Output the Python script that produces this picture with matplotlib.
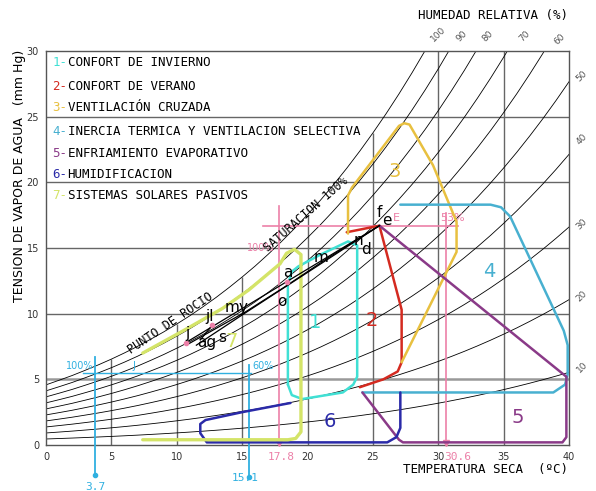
import matplotlib
matplotlib.use("Agg")
import matplotlib.pyplot as plt
import numpy as np

# saturation vapour pressure (mm Hg), 0..40 degC
temps = list(range(0, 41))
es_mmhg = [4.58, 4.93, 5.29, 5.69, 6.10, 6.54, 7.01, 7.51, 8.05, 8.61,
           9.21, 9.84, 10.52, 11.23, 11.99, 12.79, 13.63, 14.53, 15.48, 16.48,
           17.54, 18.65, 19.83, 21.07, 22.38, 23.76, 25.21, 26.74, 28.35, 30.04,
           31.82, 33.70, 35.66, 37.73, 39.90, 42.18, 44.56, 47.07, 49.69, 52.44,
           55.32]
rh_levels = [10, 20, 30, 40, 50, 60, 70, 80, 90, 100]

# zone outlines (temperature, vapour pressure)
zone1 = [(18.5, 4.6), (18.5, 12.2), (18.8, 13.2), (19.3, 13.6), (21.0, 14.5),
         (23.1, 15.5), (23.8, 15.2), (23.8, 5.2), (23.5, 4.6), (22.7, 4.0),
         (19.6, 3.5), (18.8, 3.8), (18.5, 4.6)]
zone2 = [(23.0, 16.2), (25.5, 16.7), (27.2, 10.3), (27.2, 6.3), (26.9, 5.6),
         (25.8, 5.0), (24.0, 4.4)]
zone3 = [(23.1, 16.1), (23.1, 19.0), (23.4, 19.6), (27.0, 24.3), (27.4, 24.5),
         (27.8, 24.4), (29.6, 21.3), (31.4, 17.0), (31.4, 14.7), (27.2, 6.3)]
zone4 = [(27.1, 18.3), (34.0, 18.3), (34.8, 18.1), (35.5, 17.4), (39.6, 8.7),
         (39.9, 7.6), (39.9, 5.4), (39.7, 4.6), (38.8, 4.0), (24.2, 4.0)]
zone5 = [(25.5, 16.7), (39.8, 5.2), (39.8, 0.6), (39.5, 0.2), (27.3, 0.2),
         (27.0, 0.4), (24.2, 4.0)]
zone6 = [(18.7, 3.2), (15.0, 2.5), (12.2, 1.9), (11.8, 1.6), (11.8, 0.9),
         (12.3, 0.2), (26.1, 0.2), (26.8, 0.6), (27.1, 1.3), (27.1, 4.0)]
zone7 = [(7.4, 7.0), (10.5, 8.7), (13.5, 10.4), (15.5, 11.8), (17.9, 13.8),
         (18.4, 14.6), (19.0, 14.9), (19.5, 14.5), (19.5, 1.0), (19.1, 0.5),
         (18.5, 0.4), (7.4, 0.4)]

zones = [zone1, zone2, zone3, zone4, zone5, zone6, zone7]
zone_colors = ['#40e0d4', '#d42a20', '#e8c040', '#48b0d0', '#8a3a88', '#2a2aa8', '#d4e468']
zone_numbers = ['1', '2', '3', '4', '5', '6', '7']
number_pos = [(20.6, 9.3), (24.9, 9.5), (26.7, 20.8), (33.9, 13.2), (36.1, 2.1),
              (21.7, 1.8), (14.2, 7.9)]
legend_texts = ['CONFORT DE INVIERNO', 'CONFORT DE VERANO', 'VENTILACIÓN CRUZADA',
                'INERCIA TERMICA Y VENTILACION SELECTIVA', 'ENFRIAMIENTO EVAPORATIVO',
                'HUMIDIFICACION', 'SISTEMAS SOLARES PASIVOS']

# process lines and points
process_lines = [
    [(10.7, 7.8), (25.5, 16.7)],
    [(10.9, 7.7), (15.2, 10.1), (18.2, 12.0), (21.5, 14.2), (25.5, 16.7)],
    [(11.5, 7.6), (15.0, 9.9), (25.5, 16.7)],
    [(12.7, 9.1), (11.8, 8.0)],
]
point_labels = ['j', 'jl', 'my', 'ag', 's', 'o', 'a', 'm', 'n', 'd', 'f', 'e']
point_pos = [(10.8, 8.5), (12.5, 9.8), (14.6, 10.5), (12.3, 7.8), (13.5, 8.2),
             (18.0, 10.9), (18.5, 13.1), (21.0, 14.3), (23.9, 15.6), (24.5, 14.9),
             (25.5, 17.7), (26.1, 17.1)]
pink_dots = [(10.7, 7.8), (12.7, 9.1), (18.4, 12.4)]

top_rh = ['100', '90', '80', '70', '60']
top_rh_pos = [(30.0, 31.3), (31.8, 31.1), (33.8, 31.1), (36.6, 31.1), (39.3, 30.9)]
side_rh = ['50', '40', '30', '20', '10']
side_rh_pos = [(41.0, 28.1), (41.0, 23.3), (41.0, 16.8), (41.0, 11.3), (41.0, 5.9)]

mono = 'DejaVu Sans Mono'
pink = '#ec80a8'
cyan = '#30b0e0'

fig = plt.figure(figsize=(5.96, 4.91), dpi=100)
ax = fig.add_axes([46 / 596, 1 - 445 / 491, 523 / 596, 394 / 491])
ax.set_xlim(0, 40)
ax.set_ylim(0, 30)

# grid: horizontal full, vertical up to saturation
for y in [5, 10, 15, 20, 25]:
    ax.axhline(y, color='#999999' if y == 5 else '#666666', lw=1.8 if y == 5 else 1.0, zorder=1)
for x in [5, 10, 15, 20, 25, 30, 35]:
    ax.vlines(x, 0, min(30, es_mmhg[x]), color='#666666', lw=1.0, zorder=1)

es = np.array(es_mmhg)
for rh in rh_levels:
    ax.plot(temps, es * rh / 100, color='black', lw=0.6, zorder=2)

for pts, c in zip(zones, zone_colors):
    xs, ys = zip(*pts)
    ax.plot(xs, ys, color=c, lw=1.8 if c != '#d4e468' else 2.4, zorder=4,
            solid_joinstyle='round', solid_capstyle='round')

for num, (x, y), c in zip(zone_numbers, number_pos, zone_colors):
    ax.text(x, y, num, color=c, fontsize=14, ha='center', va='center', zorder=6)

for pts in process_lines:
    xs, ys = zip(*pts)
    ax.plot(xs, ys, color='black', lw=0.9, zorder=5)
for (x, y) in pink_dots:
    ax.plot(x, y, 'o', color=pink, ms=3, zorder=5)
for lab, (x, y) in zip(point_labels, point_pos):
    ax.text(x, y, lab, fontsize=11, ha='center', va='center', zorder=6)

# pink annotations
ax.plot([16.6, 31.5], [16.7, 16.7], color=pink, lw=1.2, zorder=3)
ax.plot([17.8, 17.8], [18.2, 0], color=pink, lw=1.2, zorder=3)
ax.plot([30.6, 30.6], [17.7, 0], color=pink, lw=1.2, zorder=3)
ax.plot([17.8, 30.6], [0.15, 0.15], 'v', color=pink, ms=4, zorder=3, clip_on=False)
ax.text(16.4, 15.0, '100%', color=pink, fontsize=7, ha='center', va='center')
ax.text(26.8, 17.3, 'E', color=pink, fontsize=8, ha='center', va='center')
ax.text(31.1, 17.3, '53%', color=pink, fontsize=8, ha='center', va='center')
ax.text(18.0, -0.9, '17.8', color=pink, fontsize=8, family=mono, ha='center', va='center', clip_on=False)
ax.text(31.5, -0.9, '30.6', color=pink, fontsize=8, family=mono, ha='center', va='center', clip_on=False)

# cyan annotations
ax.plot([2.8, 15.7], [5.5, 5.5], color=cyan, lw=1.0, zorder=3)
ax.plot([3.75, 3.75], [6.7, -2.3], color=cyan, lw=1.3, zorder=3, clip_on=False)
ax.plot([15.5, 15.5], [6.1, -2.4], color=cyan, lw=1.3, zorder=3, clip_on=False)
ax.plot([3.75, 15.5], [-2.3, -2.4], 'o', color=cyan, ms=3, clip_on=False, zorder=3)
ax.text(2.6, 6.0, '100%', color=cyan, fontsize=7, ha='center', va='center')
ax.text(6.7, 6.0, 'J', color=cyan, fontsize=7, ha='center', va='center')
ax.text(16.6, 6.0, '60%', color=cyan, fontsize=7, ha='center', va='center')
ax.text(3.75, -3.2, '3.7', color=cyan, fontsize=8, family=mono, ha='center', va='center', clip_on=False)
ax.text(15.2, -2.5, '15.1', color=cyan, fontsize=8, family=mono, ha='center', va='center', clip_on=False)

# curve labels
ax.text(9.5, 9.3, 'PUNTO DE ROCIO', family=mono, fontsize=8.5, rotation=34,
        rotation_mode='anchor', ha='center', va='center')
ax.text(19.9, 17.6, 'SATURACION 100%', family=mono, fontsize=8.5, rotation=41,
        rotation_mode='anchor', ha='center', va='center')

for lab, (x, y) in zip(top_rh, top_rh_pos):
    ax.text(x, y, lab, fontsize=6.5, color='#555555', rotation=45, ha='center', va='center', clip_on=False)
for lab, (x, y) in zip(side_rh, side_rh_pos):
    ax.text(x, y, lab, fontsize=6.5, color='#555555', rotation=45, ha='center', va='center', clip_on=False)

# legend inside chart: coloured "N-" then black text, offset by two mono chars
leg_y = [29.1, 27.3, 25.7, 23.9, 22.2, 20.6, 19.0]
char_w = 0.602 * 9
for num, txt, c, y in zip(zone_numbers, legend_texts, zone_colors, leg_y):
    ax.text(0.5, y, num + '-', color=c, family=mono, fontsize=9, va='center', zorder=6)
    ax.annotate(txt, (0.5, y), xytext=(2 * char_w, 0), textcoords='offset points',
                color='black', family=mono, fontsize=9, va='center', zorder=6)

ax.set_xticks(range(0, 41, 5))
ax.set_yticks(range(0, 31, 5))
ax.tick_params(length=0, labelsize=7, labelcolor='#333333', pad=5)
for s in ax.spines.values():
    s.set_color('#555555')
    s.set_linewidth(1.0)

fig.text(568 / 596, 1 - 15 / 491, 'HUMEDAD RELATIVA (%)', family=mono, fontsize=9, ha='right', va='center')
fig.text(568 / 596, 1 - 470 / 491, 'TEMPERATURA SECA  (ºC)', family=mono, fontsize=9, ha='right', va='center')
fig.text(20 / 596, 1 - 176 / 491, 'TENSION DE VAPOR DE AGUA   (mm Hg)', fontsize=9,
         rotation=90, ha='center', va='center')

fig.savefig('out.png', dpi=100, facecolor='white')
